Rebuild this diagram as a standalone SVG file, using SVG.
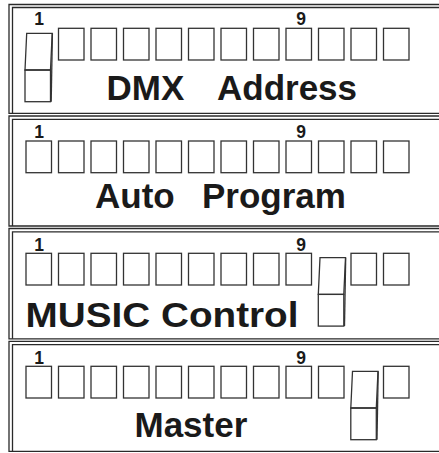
<svg xmlns="http://www.w3.org/2000/svg" width="439" height="453" viewBox="0 0 439 453">
<style>
.frame{fill:none;stroke:#2a2a2a;stroke-width:1.3}
.box{fill:none;stroke:#333;stroke-width:1.3}
.num{font-family:"Liberation Sans",Arial,sans-serif;font-weight:bold;font-size:17.5px;fill:#1a1a1a;text-anchor:middle}
.title{font-family:"Liberation Sans",Arial,sans-serif;font-weight:bold;font-size:35px;fill:#1a1a1a}
</style>
<defs>
<g id="bx"><rect class="box" x="0" y="0" width="25.5" height="31.7"/></g>
<g id="sw">
<polygon class="box" points="1.7,0 27.2,0 25.5,36.7 0,36.7"/>
<rect class="box" x="0" y="36.7" width="25.5" height="31.7"/>
<line class="box" x1="27.4" y1="0" x2="26.2" y2="68.4"/>
</g>
</defs>
<rect width="439" height="453" fill="#fff"/>

<g id="panel-dmx">
<polyline class="frame" points="450,4.5 9,4.5 9,113.3 450,113.3"/>
<polyline class="frame" points="450,7.5 12.5,7.5 12.5,113.3"/>
<use href="#sw" x="25" y="33.3"/>
<use href="#bx" x="58.5" y="28.3"/><use href="#bx" x="91" y="28.3"/><use href="#bx" x="123.5" y="28.3"/>
<use href="#bx" x="156" y="28.3"/><use href="#bx" x="188.5" y="28.3"/><use href="#bx" x="221" y="28.3"/>
<use href="#bx" x="253.5" y="28.3"/><use href="#bx" x="286" y="28.3"/><use href="#bx" x="318.5" y="28.3"/>
<use href="#bx" x="351" y="28.3"/><use href="#bx" x="383.5" y="28.3"/>
<text class="num" x="39" y="24.8">1</text>
<text class="num" x="301" y="24.8">9</text>
<text class="title" y="100.3"><tspan x="106.5">DMX </tspan><tspan x="217">Address</tspan></text>
</g>

<g id="panel-auto">
<polyline class="frame" points="450,116 9,116 9,226 450,226"/>
<polyline class="frame" points="450,119.3 12.5,119.3 12.5,226"/>
<use href="#bx" x="26" y="141"/><use href="#bx" x="58.5" y="141"/><use href="#bx" x="91" y="141"/><use href="#bx" x="123.5" y="141"/>
<use href="#bx" x="156" y="141"/><use href="#bx" x="188.5" y="141"/><use href="#bx" x="221" y="141"/>
<use href="#bx" x="253.5" y="141"/><use href="#bx" x="286" y="141"/><use href="#bx" x="318.5" y="141"/>
<use href="#bx" x="351" y="141"/><use href="#bx" x="383.5" y="141"/>
<text class="num" x="39" y="137.8">1</text>
<text class="num" x="301" y="137.8">9</text>
<text class="title" y="208.3"><tspan x="95">Auto </tspan><tspan x="202">Program</tspan></text>
</g>

<g id="panel-music">
<polyline class="frame" points="450,228.5 9,228.5 9,338.8 450,338.8"/>
<polyline class="frame" points="450,231.8 12.5,231.8 12.5,338.8"/>
<use href="#bx" x="26" y="253.3"/><use href="#bx" x="58.5" y="253.3"/><use href="#bx" x="91" y="253.3"/><use href="#bx" x="123.5" y="253.3"/>
<use href="#bx" x="156" y="253.3"/><use href="#bx" x="188.5" y="253.3"/><use href="#bx" x="221" y="253.3"/>
<use href="#bx" x="253.5" y="253.3"/><use href="#bx" x="286" y="253.3"/>
<use href="#sw" x="318.3" y="257.7"/>
<use href="#bx" x="351" y="253.3"/><use href="#bx" x="383.5" y="253.3"/>
<text class="num" x="39" y="250.7">1</text>
<text class="num" x="301" y="250.7">9</text>
<text class="title" x="25.5" y="326.7" textLength="273" lengthAdjust="spacingAndGlyphs">MUSIC Control</text>
</g>

<g id="panel-master">
<polyline class="frame" points="450,341.3 9,341.3 9,451.3 450,451.3"/>
<polyline class="frame" points="450,344.6 12.5,344.6 12.5,451.3"/>
<use href="#bx" x="26" y="366.3"/><use href="#bx" x="58.5" y="366.3"/><use href="#bx" x="91" y="366.3"/><use href="#bx" x="123.5" y="366.3"/>
<use href="#bx" x="156" y="366.3"/><use href="#bx" x="188.5" y="366.3"/><use href="#bx" x="221" y="366.3"/>
<use href="#bx" x="253.5" y="366.3"/><use href="#bx" x="286" y="366.3"/><use href="#bx" x="318.5" y="366.3"/>
<use href="#sw" x="350.8" y="371.3"/>
<use href="#bx" x="383.5" y="366.3"/>
<text class="num" x="39" y="363.6">1</text>
<text class="num" x="301" y="363.6">9</text>
<text class="title" x="134.5" y="437.3">Master</text>
</g>

<g id="connectors"></g>
</svg>
